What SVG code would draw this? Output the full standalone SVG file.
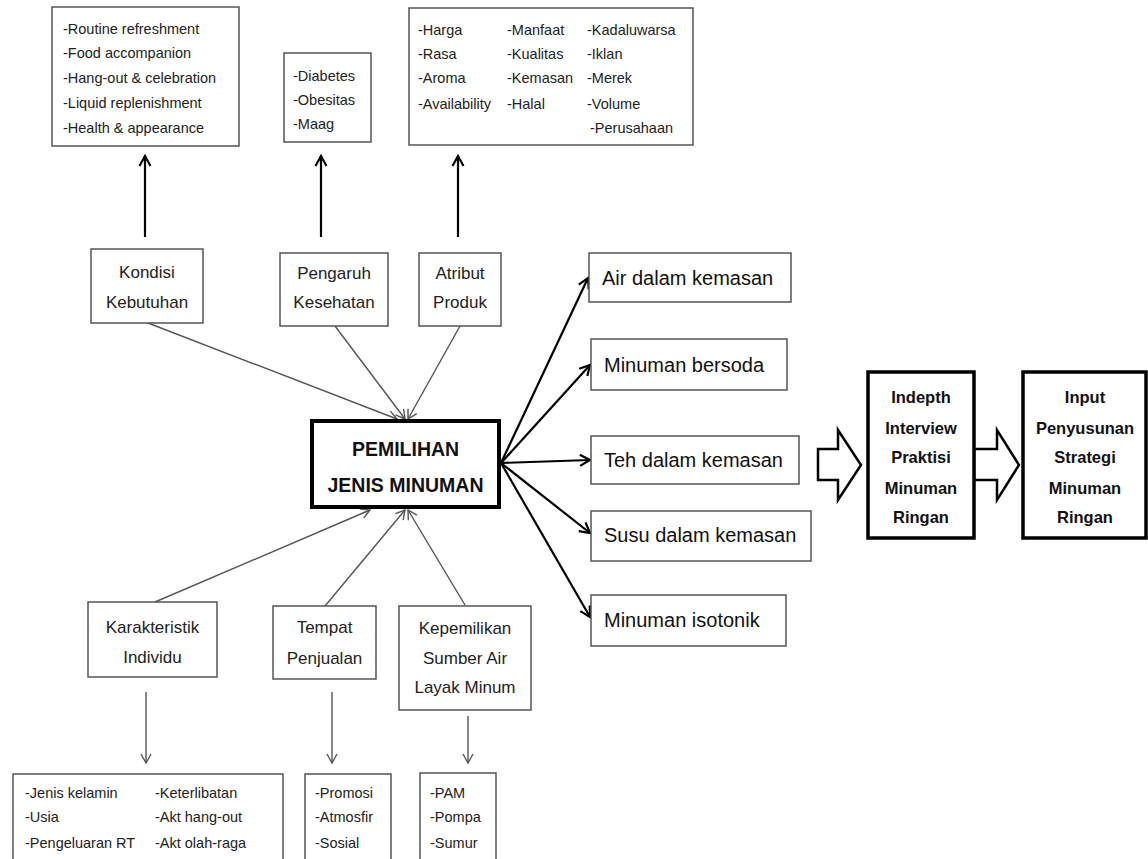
<svg xmlns="http://www.w3.org/2000/svg" width="1148" height="859" viewBox="0 0 1148 859">
<style>
text{font-family:"Liberation Sans",Arial,sans-serif;fill:#222}
.box{fill:#fff;stroke:#555;stroke-width:1.5}
.thick{fill:#fff;stroke:#000;stroke-width:4}
.bold{fill:#fff;stroke:#000;stroke-width:3.5}
.lst{font-size:14.5px}
.lbl{font-size:17px;text-anchor:middle}
.prod{font-size:20px;fill:#111}
.bt{font-size:16.5px;font-weight:bold;text-anchor:middle;fill:#111}
.ctr{font-size:19.5px;font-weight:bold;text-anchor:middle;fill:#111}
.thin{stroke:#555;stroke-width:1.4;fill:none;marker-end:url(#vthin)}
.heavy{stroke:#000;stroke-width:2.2;fill:none;marker-end:url(#vheavy)}
.block{fill:#fff;stroke:#000;stroke-width:2.5;stroke-linejoin:miter}
</style>
<defs>
<marker id="vthin" viewBox="-11 -7 13 14" refX="0" refY="0" markerWidth="13" markerHeight="14" markerUnits="userSpaceOnUse" orient="auto">
<path d="M-9,-5 L0,0 L-9,5" fill="none" stroke="#555" stroke-width="1.4"/>
</marker>
<marker id="vheavy" viewBox="-12 -7 14 14" refX="0" refY="0" markerWidth="14" markerHeight="14" markerUnits="userSpaceOnUse" orient="auto">
<path d="M-10,-5.5 L0,0 L-10,5.5" fill="none" stroke="#000" stroke-width="2.2"/>
</marker>
</defs>
<rect width="1148" height="859" fill="#fff"/>

<g id="connectors">
<line class="heavy" x1="145" y1="237" x2="145" y2="156"/>
<line class="heavy" x1="321" y1="237" x2="321" y2="156"/>
<line class="heavy" x1="458" y1="237" x2="458" y2="156"/>
<line class="thin" x1="148" y1="323" x2="397" y2="419"/>
<line class="thin" x1="335" y1="326" x2="405" y2="419"/>
<line class="thin" x1="460" y1="326" x2="408" y2="419"/>
<line class="thin" x1="155" y1="602" x2="370" y2="510"/>
<line class="thin" x1="325" y1="606" x2="405" y2="510"/>
<line class="thin" x1="465" y1="605" x2="408" y2="510"/>
<line class="thin" x1="146" y1="692" x2="146" y2="763"/>
<line class="thin" x1="332" y1="692" x2="332" y2="763"/>
<line class="thin" x1="468" y1="716" x2="468" y2="763"/>
<line class="heavy" x1="501" y1="463" x2="588" y2="278"/>
<line class="heavy" x1="501" y1="463" x2="590" y2="365"/>
<line class="heavy" x1="501" y1="463" x2="590" y2="460"/>
<line class="heavy" x1="501" y1="463" x2="590" y2="533"/>
<line class="heavy" x1="501" y1="463" x2="590" y2="617"/>
<polygon class="block" points="818,449 838,449 838,430 861,465 838,500 838,480 818,480"/>
<polygon class="block" points="974,449 997,449 997,430 1019,465 997,500 997,480 974,480"/>
</g>

<g id="n-kebutuhan-list">
<rect class="box" x="52" y="7" width="187" height="139"/>
<text class="lst" x="63" y="34">-Routine refreshment</text>
<text class="lst" x="63" y="58">-Food accompanion</text>
<text class="lst" x="63" y="83">-Hang-out &amp; celebration</text>
<text class="lst" x="63" y="108">-Liquid replenishment</text>
<text class="lst" x="63" y="133">-Health &amp; appearance</text>
</g>
<g id="n-kesehatan-list">
<rect class="box" x="284" y="53" width="87" height="89"/>
<text class="lst" x="293" y="81">-Diabetes</text>
<text class="lst" x="293" y="105">-Obesitas</text>
<text class="lst" x="293" y="129">-Maag</text>
</g>
<g id="n-atribut-list">
<rect class="box" x="409" y="8" width="284" height="137"/>
<text class="lst" x="418" y="35">-Harga</text>
<text class="lst" x="418" y="59">-Rasa</text>
<text class="lst" x="418" y="83">-Aroma</text>
<text class="lst" x="418" y="109">-Availability</text>
<text class="lst" x="507" y="35">-Manfaat</text>
<text class="lst" x="507" y="59">-Kualitas</text>
<text class="lst" x="507" y="83">-Kemasan</text>
<text class="lst" x="507" y="109">-Halal</text>
<text class="lst" x="587" y="35">-Kadaluwarsa</text>
<text class="lst" x="587" y="59">-Iklan</text>
<text class="lst" x="587" y="83">-Merek</text>
<text class="lst" x="587" y="109">-Volume</text>
<text class="lst" x="590" y="133">-Perusahaan</text>
</g>

<g id="n-kondisi">
<rect class="box" x="91" y="249" width="112" height="74"/>
<text class="lbl" x="147" y="278">Kondisi</text>
<text class="lbl" x="147" y="308">Kebutuhan</text>
</g>
<g id="n-pengaruh">
<rect class="box" x="280" y="253" width="108" height="73"/>
<text class="lbl" x="334" y="279">Pengaruh</text>
<text class="lbl" x="334" y="308">Kesehatan</text>
</g>
<g id="n-atribut">
<rect class="box" x="419" y="253" width="82" height="73"/>
<text class="lbl" x="460" y="279">Atribut</text>
<text class="lbl" x="460" y="308">Produk</text>
</g>

<g id="n-pemilihan">
<rect class="thick" x="312" y="421" width="187" height="86"/>
<text class="ctr" x="405.5" y="456">PEMILIHAN</text>
<text class="ctr" x="405.5" y="492">JENIS MINUMAN</text>
</g>

<g id="n-karakteristik">
<rect class="box" x="88" y="602" width="129" height="75"/>
<text class="lbl" x="152.5" y="633">Karakteristik</text>
<text class="lbl" x="152.5" y="663">Individu</text>
</g>
<g id="n-tempat">
<rect class="box" x="273" y="606" width="103" height="73"/>
<text class="lbl" x="324.5" y="633">Tempat</text>
<text class="lbl" x="324.5" y="664">Penjualan</text>
</g>
<g id="n-kepemilikan">
<rect class="box" x="399" y="606" width="132" height="104"/>
<text class="lbl" x="465" y="634">Kepemilikan</text>
<text class="lbl" x="465" y="664">Sumber Air</text>
<text class="lbl" x="465" y="693">Layak Minum</text>
</g>

<g id="n-individu-list">
<rect class="box" x="13" y="774" width="270" height="100"/>
<text class="lst" x="25" y="798">-Jenis kelamin</text>
<text class="lst" x="25" y="822">-Usia</text>
<text class="lst" x="25" y="848">-Pengeluaran RT</text>
<text class="lst" x="155" y="798">-Keterlibatan</text>
<text class="lst" x="155" y="822">-Akt hang-out</text>
<text class="lst" x="155" y="848">-Akt olah-raga</text>
</g>
<g id="n-penjualan-list">
<rect class="box" x="305" y="774" width="86" height="100"/>
<text class="lst" x="315" y="798">-Promosi</text>
<text class="lst" x="315" y="822">-Atmosfir</text>
<text class="lst" x="315" y="848">-Sosial</text>
</g>
<g id="n-air-list">
<rect class="box" x="420" y="773" width="76" height="101"/>
<text class="lst" x="430" y="798">-PAM</text>
<text class="lst" x="430" y="822">-Pompa</text>
<text class="lst" x="430" y="848">-Sumur</text>
</g>

<g id="n-air">
<rect class="box" x="589" y="253" width="202" height="49"/>
<text class="prod" x="602" y="285">Air dalam kemasan</text>
</g>
<g id="n-bersoda">
<rect class="box" x="591" y="339" width="196" height="51"/>
<text class="prod" x="604" y="372">Minuman bersoda</text>
</g>
<g id="n-teh">
<rect class="box" x="591" y="436" width="208" height="48"/>
<text class="prod" x="604" y="467">Teh dalam kemasan</text>
</g>
<g id="n-susu">
<rect class="box" x="591" y="511" width="220" height="50"/>
<text class="prod" x="604" y="542">Susu dalam kemasan</text>
</g>
<g id="n-isotonik">
<rect class="box" x="591" y="595" width="195" height="51"/>
<text class="prod" x="604" y="627">Minuman isotonik</text>
</g>

<g id="n-indepth">
<rect class="bold" x="868" y="372" width="106" height="166"/>
<text class="bt" x="921" y="403">Indepth</text>
<text class="bt" x="921" y="434">Interview</text>
<text class="bt" x="921" y="463">Praktisi</text>
<text class="bt" x="921" y="494">Minuman</text>
<text class="bt" x="921" y="523">Ringan</text>
</g>
<g id="n-input">
<rect class="bold" x="1023" y="372" width="123" height="166"/>
<text class="bt" x="1085" y="403">Input</text>
<text class="bt" x="1085" y="434">Penyusunan</text>
<text class="bt" x="1085" y="463">Strategi</text>
<text class="bt" x="1085" y="494">Minuman</text>
<text class="bt" x="1085" y="523">Ringan</text>
</g>
</svg>
